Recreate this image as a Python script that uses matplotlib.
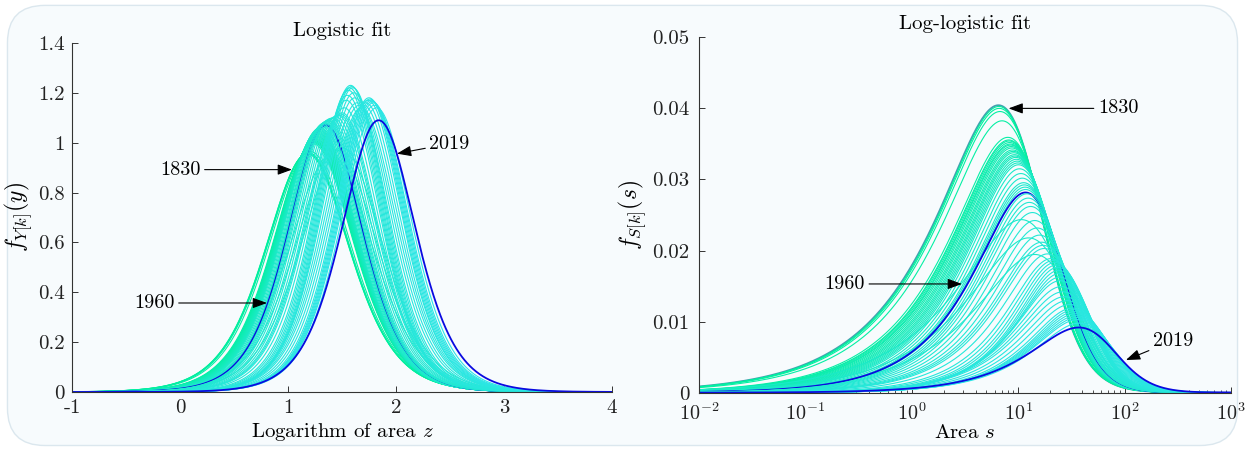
import numpy as np
import matplotlib
matplotlib.use('Agg')
import matplotlib.pyplot as plt
from matplotlib.patches import FancyBboxPatch
from matplotlib.ticker import FuncFormatter, FixedLocator, LogLocator, NullFormatter

plt.rcParams['font.family'] = ['cmr10', 'DejaVu Serif']
plt.rcParams['mathtext.fontset'] = 'cm'
plt.rcParams['axes.unicode_minus'] = False

# ---- data: logistic fit of log10(area) per year ----
years = [1830, 1835, 1840, 1845, 1850,
         1855, 1860, 1865, 1870, 1875, 1880, 1885, 1890, 1895, 1900, 1905, 1910,
         1915, 1920, 1925, 1930, 1935, 1940,
         1942, 1944, 1946,
         1948, 1950, 1952, 1954, 1956, 1958, 1959, 1960,
         1962, 1965, 1968, 1970, 1972, 1974, 1976, 1978, 1980, 1983,
         1987, 1988, 1989, 1990, 1991, 1992, 1993, 1994, 1995, 1996, 1997, 1998, 1999, 2000,
         2001, 2003, 2005, 2007, 2009, 2011, 2013, 2015, 2016, 2018, 2019]

loc = [1.180, 1.182, 1.185, 1.190, 1.205,
       1.235, 1.240, 1.242, 1.245, 1.248, 1.250, 1.253, 1.256, 1.260, 1.263, 1.266, 1.270,
       1.273, 1.276, 1.280, 1.284, 1.288, 1.292,
       1.400, 1.450, 1.500,
       1.300, 1.310, 1.320, 1.330, 1.335, 1.340, 1.345, 1.350,
       1.355, 1.365, 1.375, 1.385, 1.400, 1.420, 1.440, 1.460, 1.480, 1.490,
       1.500, 1.520, 1.540, 1.550, 1.560, 1.570, 1.580, 1.590, 1.600, 1.610, 1.620, 1.640, 1.660, 1.680,
       1.700, 1.720, 1.740, 1.750, 1.760, 1.770, 1.780, 1.790, 1.800, 1.820, 1.840]

peak = [0.955, 0.957, 0.958, 0.960, 0.965,
        0.995, 1.000, 1.002, 1.005, 1.008, 1.010, 1.014, 1.018, 1.022, 1.026, 1.030, 1.034,
        1.038, 1.042, 1.046, 1.050, 1.054, 1.058,
        0.950, 0.970, 0.980,
        1.060, 1.065, 1.070, 1.075, 1.078, 1.080, 1.080, 1.070,
        1.085, 1.088, 1.090, 1.094, 1.098, 1.100, 1.105, 1.110, 1.110, 1.115,
        1.120, 1.140, 1.170, 1.190, 1.210, 1.220, 1.230, 1.225, 1.220, 1.200, 1.180, 1.160, 1.150, 1.140,
        1.150, 1.160, 1.170, 1.180, 1.175, 1.170, 1.165, 1.160, 1.150, 1.140, 1.090]

highlight_left = {1960: '#0a0ae0', 2019: '#0a0ae0'}
highlight_right = {1830: '#45a0b0', 1960: '#0a0ae0', 2019: '#0a0ae0'}

# annotation positions (text tail, arrow tip)
left_notes = [('1830', (0.19, 0.892), (1.037, 0.892)),
              ('1960', (-0.05, 0.357), (0.806, 0.357)),
              ('2019', (2.31, 0.996), (2.009, 0.956))]
right_notes = [('1830', (10 ** 1.75, 0.0400), (10 ** 0.91, 0.0400)),
               ('1960', (10 ** -0.44, 0.0153), (10 ** 0.472, 0.0153)),
               ('2019', (10 ** 2.267, 0.00732), (10 ** 2.013, 0.0046))]

c_start = np.array([0x00, 0xf0, 0x9c]) / 255.0
c_end = np.array([0x2c, 0xe6, 0xe6]) / 255.0


def logistic_pdf(y, m, sc):
    z = (y - m) / sc
    e = np.exp(-np.abs(z))
    return e / (sc * (1 + e) ** 2)


fig = plt.figure(figsize=(12.45, 4.5), dpi=100, facecolor='white')
bg = FancyBboxPatch((0.006, 0.01), 0.988, 0.978, boxstyle='round,pad=0,rounding_size=0.03',
                    transform=fig.transFigure, facecolor='#f7fbfd', edgecolor='#dbe7ee',
                    linewidth=1.0, mutation_aspect=1245 / 450, zorder=-10)
fig.patches.append(bg)

axL = fig.add_axes([0.0578, 0.1289, 0.4337, 0.7756])
axR = fig.add_axes([0.5614, 0.1273, 0.4273, 0.7898])

zgrid = np.linspace(-1, 4, 800)
sgrid = np.logspace(-2, 3, 800)

y0, y1 = years[0], years[-1]
for yr, m, h in zip(years, loc, peak):
    sc = 1.0 / (4.0 * h)
    t = (yr - y0) / (y1 - y0)
    base = tuple(c_start * (1 - t) + c_end * t)
    colL = highlight_left.get(yr, base)
    colR = highlight_right.get(yr, base)
    lwL = 1.3 if yr in highlight_left else 0.8
    lwR = 1.3 if yr in highlight_right else 0.8
    fz = logistic_pdf(zgrid, m, sc)
    axL.plot(zgrid, fz, color=colL, lw=lwL)
    fs = logistic_pdf(np.log10(sgrid), m, sc) / (sgrid * np.log(10))
    axR.plot(sgrid, fs, color=colR, lw=lwR)

fmt = FuncFormatter(lambda v, p: '%g' % v)
for ax in (axL, axR):
    ax.set_facecolor('none')
    for sp in ('top', 'right'):
        ax.spines[sp].set_visible(False)
    for sp in ('left', 'bottom'):
        ax.spines[sp].set_color('#333333')
        ax.spines[sp].set_linewidth(0.8)
    ax.tick_params(direction='in', length=4, width=0.7, colors='#333333',
                   labelsize=15, labelcolor='#222222', pad=5)
    ax.tick_params(which='minor', direction='in', length=2.5, width=0.6, colors='#333333')

axL.set_xlim(-1, 4)
axL.set_ylim(0, 1.4)
axL.xaxis.set_major_locator(FixedLocator([-1, 0, 1, 2, 3, 4]))
axL.yaxis.set_major_locator(FixedLocator([0, 0.2, 0.4, 0.6, 0.8, 1.0, 1.2, 1.4]))
axL.xaxis.set_major_formatter(fmt)
axL.yaxis.set_major_formatter(fmt)
axL.set_title('Logistic fit', fontsize=15, pad=5)
axL.set_xlabel('Logarithm of area $z$', fontsize=15, labelpad=3)
axL.set_ylabel('$f_{Y[k]}(y)$', fontsize=17, labelpad=2)

axR.set_xscale('log')
axR.set_xlim(1e-2, 1e3)
axR.set_ylim(0, 0.05)
axR.xaxis.set_major_locator(LogLocator(base=10, numticks=10))
axR.xaxis.set_minor_locator(LogLocator(base=10, subs=np.arange(2, 10), numticks=20))
axR.xaxis.set_minor_formatter(NullFormatter())
axR.yaxis.set_major_locator(FixedLocator([0, 0.01, 0.02, 0.03, 0.04, 0.05]))
axR.yaxis.set_major_formatter(fmt)
axR.tick_params(axis='x', labelsize=14.5, pad=7)
axR.tick_params(axis='y', pad=7)
axR.set_title('Log-logistic fit', fontsize=15, pad=6)
axR.set_xlabel('Area $s$', fontsize=15, labelpad=0)
axR.set_ylabel('$f_{S[k]}(s)$', fontsize=17, labelpad=2)

arrow = dict(arrowstyle='-|>,head_length=0.6,head_width=0.22', color='black', lw=0.8,
             shrinkA=1, shrinkB=0)
for ax, notes in ((axL, left_notes), (axR, right_notes)):
    for txt, tail, tip in notes:
        ha = 'right' if tip[0] > tail[0] else 'left'
        ax.annotate(txt, xy=tip, xytext=tail, ha=ha, va='center', fontsize=14.5,
                    arrowprops=arrow)

fig.savefig('out.png', dpi=100, facecolor='white')
